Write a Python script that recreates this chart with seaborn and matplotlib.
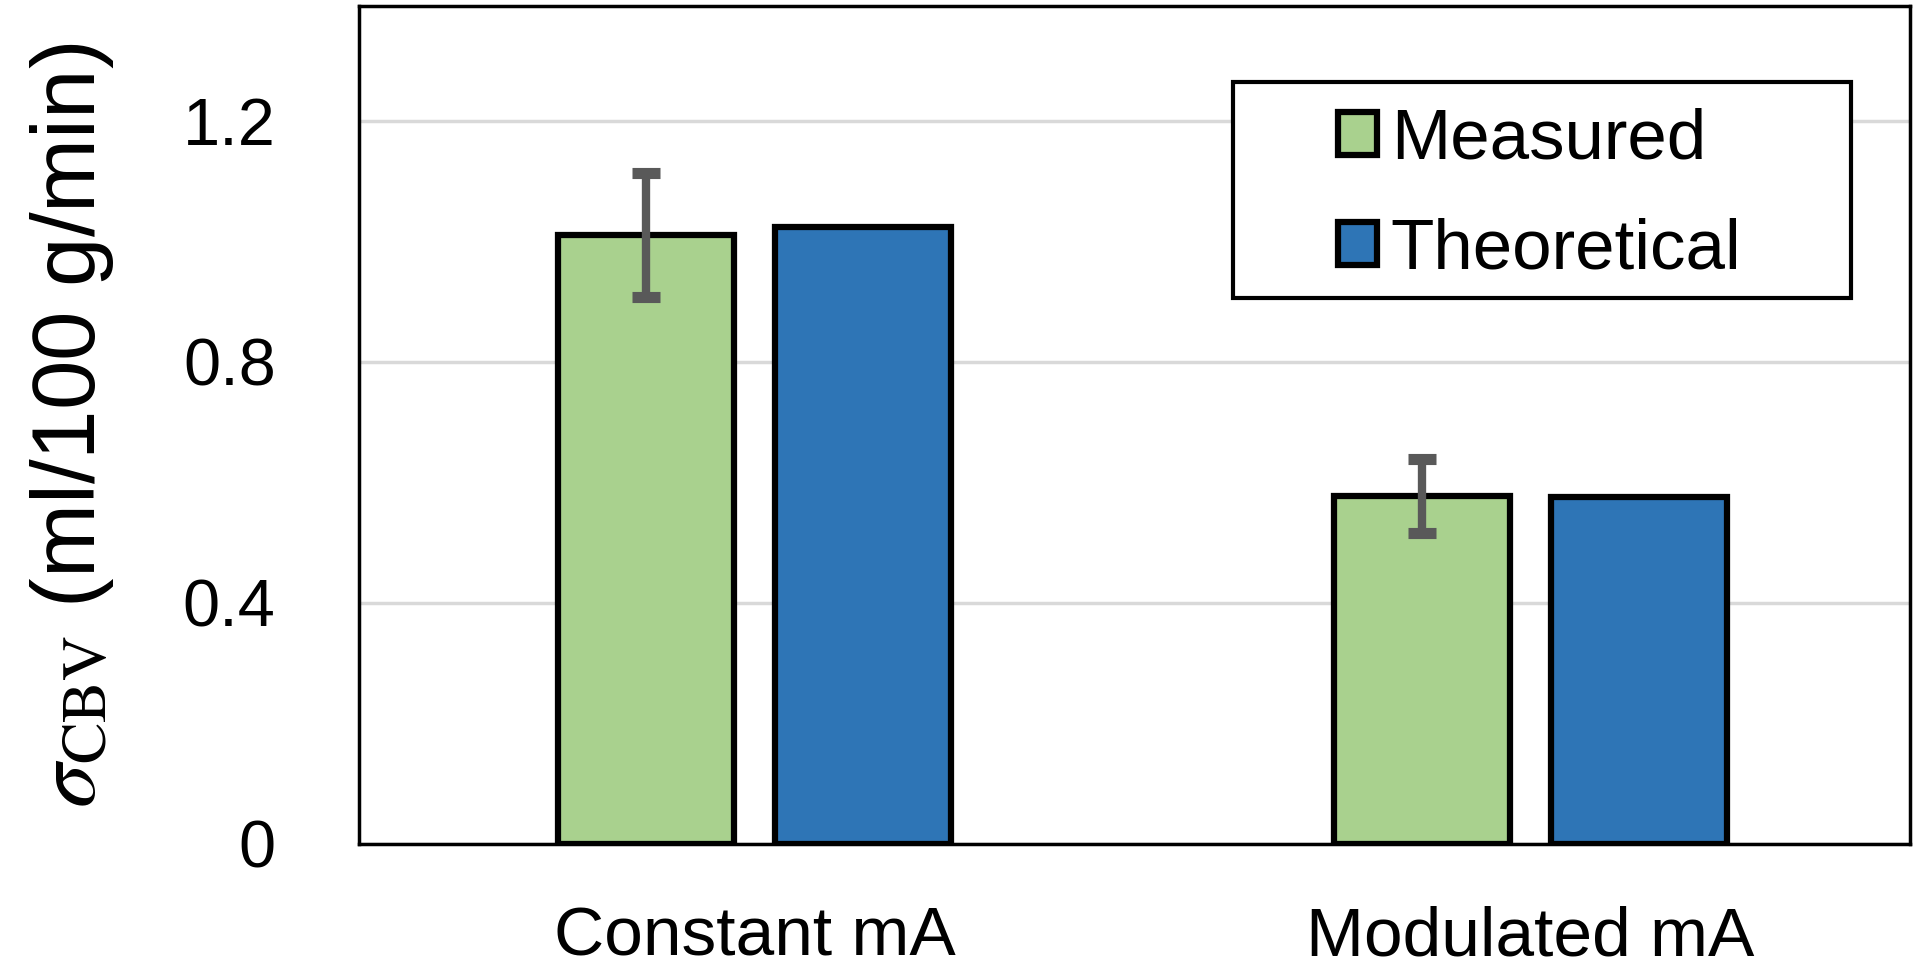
import matplotlib
matplotlib.use("Agg")
import matplotlib.pyplot as plt
from matplotlib.patches import Rectangle
import numpy as np
import pandas as pd
import seaborn as sns

categories = ["Constant mA", "Modulated mA"]
series = ["Measured", "Theoretical"]
measured = [1.01, 0.577]
theoretical = [1.023, 0.575]
measured_err = [0.103, 0.061]
y_ticks = [0, 0.4, 0.8, 1.2]
y_tick_labels = ["0", "0.4", "0.8", "1.2"]
colors = ["#A9D18E", "#2E75B6"]

sns.set_style("white")
plt.rcParams["font.family"] = ["Liberation Sans", "DejaVu Sans"]
plt.rcParams["mathtext.fontset"] = "stix"
plt.rcParams["text.color"] = "black"
plt.rcParams["axes.labelcolor"] = "black"
plt.rcParams["xtick.color"] = "black"
plt.rcParams["ytick.color"] = "black"

df = pd.DataFrame({
    "Condition": categories * 2,
    "Series": [series[0]] * 2 + [series[1]] * 2,
    "Value": measured + theoretical,
})

fig = plt.figure(figsize=(19.2, 9.71), dpi=100)
ax = fig.add_axes([0.187, 0.1308, 0.808, 0.863])

sns.barplot(data=df, x="Condition", y="Value", hue="Series", order=categories,
            hue_order=series, palette=colors, saturation=1, width=0.56, gap=0.19,
            errorbar=None, edgecolor="black", linewidth=4.5, legend=False, ax=ax)

# error bars on the measured bars
bars = ax.containers[0]
xs = [p.get_x() + p.get_width() / 2 for p in bars.patches]
ax.errorbar(xs, measured, yerr=measured_err, fmt="none", ecolor="#595959",
            elinewidth=6, capsize=10, capthick=8, zorder=5)

ax.set_ylim(0, 1.39)
ax.set_xlim(-0.51, 1.49)
ax.set_yticks(y_ticks)
ax.set_yticklabels(y_tick_labels)
ax.yaxis.grid(True, color="#D9D9D9", linewidth=2.5)
ax.set_axisbelow(True)
ax.tick_params(axis="y", length=0, pad=60, labelsize=48)
ax.tick_params(axis="x", length=0, pad=44, labelsize=50)
ax.set_xlabel("")
ax.set_ylabel(r"$\sigma_{\mathrm{CBV}}$ (ml/100 g/min)", fontsize=64, labelpad=48)
for s in ax.spines.values():
    s.set_color("black")
    s.set_linewidth(2.5)

# legend box
box = Rectangle((0.5635, 0.652), 0.3985, 0.257, transform=ax.transAxes,
                facecolor="white", edgecolor="black", linewidth=3, zorder=6)
ax.add_patch(box)
leg = ax.legend(handles=ax.containers[:2], labels=series, loc="center",
                bbox_to_anchor=(0.761, 0.774), frameon=False, fontsize=51,
                handlelength=0.55, handleheight=0.55, handletextpad=0.2,
                labelspacing=0.62)
leg.set_zorder(7)

plt.savefig("out.png", dpi=100)
